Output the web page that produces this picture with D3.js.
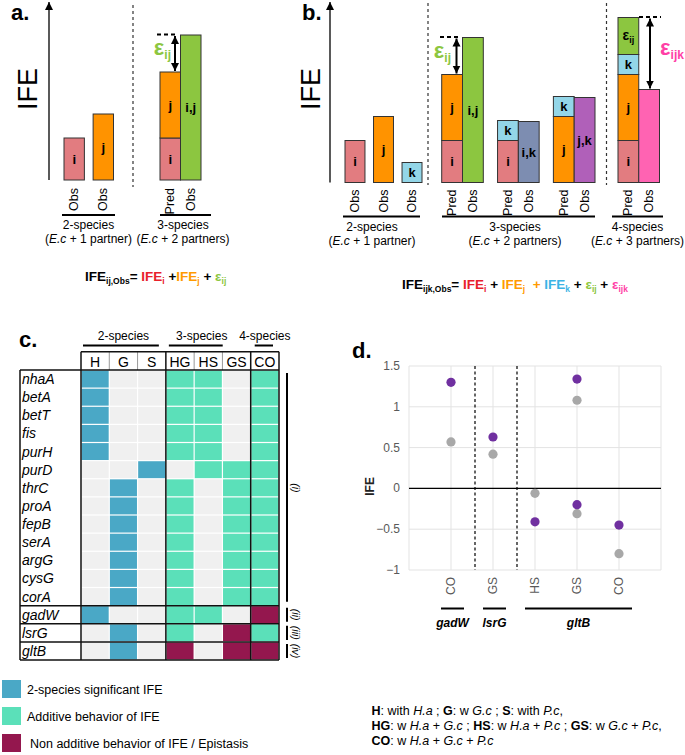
<!DOCTYPE html>
<html><head><meta charset="utf-8">
<script src="https://cdn.jsdelivr.net/npm/d3@7"></script>
<style>
body{margin:0;background:#fff}
svg{display:block}
text{font-family:"Liberation Sans",Arial,sans-serif;white-space:pre}
</style></head><body>
<svg id="fig" width="685" height="755"></svg>
<script>
// ================= DATA =================
// Panels a / b : schematic IFE values (arbitrary units)
const singleKeys = ["i", "j", "k"];
const singleIFE = [42, 66, 20];                 // IFE_i, IFE_j, IFE_k (2-species, observed)
const pairKeys = ["i,j", "i,k", "j,k"];
const pairObs = [145, 61, 85];                  // observed 3-species IFE
const pairPredParts = [["i", "j"], ["i", "k"], ["j", "k"]];
const quadPredParts = ["i", "j", "k", "eij"];
const quadObs = 93;                             // observed 4-species IFE
const groupTitles = ["2-species", "3-species", "4-species"];
const groupSubtitles = ["1 partner)", "2 partners)", "3 partners)"];

// Panel c : gene x condition classification
const genes = ["nhaA","betA","betT","fis","purH","purD","thrC","proA","fepB","serA","argG","cysG","corA","gadW","lsrG","gltB"];
const conditions = ["H","G","S","HG","HS","GS","CO"];
// B = 2-species significant IFE, A = additive, E = epistasis, . = none
const cellCodes = [
  "B..AA.A","B..AA.A","B..AA.A","B..AA.A","B..AA.A",
  "..B.AAA",
  ".B.A.AA",".B.A.AA",".B.A.AA",".B.A.AA",".B.A.AA",".B.A.AA",".B.A.AA",
  "B..AA.E",
  ".B.A.EA",
  ".B.E.EE"
];
const geneClassLabels = ["(i)","(ii)","(iii)","(iv)"];
const geneClassFirst = ["nhaA","gadW","lsrG","gltB"];
const geneClassLast  = ["corA","gadW","lsrG","gltB"];
const legendLabels = ["2-species significant IFE","Additive behavior of IFE","Non additive behavior of IFE / Epistasis"];
const legendCodes = ["B","A","E"];

// Panel d : IFE of non-additive cases
const dCats = ["gadW|CO","lsrG|GS","gltB|HS","gltB|GS","gltB|CO"];
const dTickLabels = ["CO","GS","HS","GS","CO"];
const dYTicks = [-1, -0.5, 0, 0.5, 1, 1.5];
const purpleCats = ["gadW|CO","lsrG|GS","gltB|HS","gltB|GS","gltB|GS","gltB|CO"];
const purpleVals = [1.30, 0.63, -0.41, 1.34, -0.20, -0.45];
const grayCats = ["gadW|CO","lsrG|GS","gltB|HS","gltB|GS","gltB|GS","gltB|CO"];
const grayVals = [0.57, 0.42, -0.06, 1.08, -0.31, -0.80];
const dGenes = ["gadW","lsrG","gltB"];
const dGeneFirst = ["gadW|CO","lsrG|GS","gltB|HS"];
const dGeneLast  = ["gadW|CO","lsrG|GS","gltB|CO"];

// ================= STYLE =================
const col = {
  i:"#E27C80", j:"#FF9300", k:"#93D6E8", eij:"#8CC640",
  "i,j":"#8CC640", "i,k":"#7D8DB1", "j,k":"#B060B9", ijk:"#FF63B2",
  tRed:"#E8202A", tOrange:"#FF9A00", tBlue:"#3BB4E5", tGreen:"#8CC640", tPink:"#FF3FA6",
  B:"#4AA8C6", A:"#5BE0B9", E:"#94174E", ".":"#F0F0F0",
  purple:"#7030A0", gray:"#A8A8A8"
};

const svg = d3.select("#fig");
svg.append("rect").attr("width",685).attr("height",755).attr("fill","#fff");
const defs = svg.append("defs");
defs.append("marker").attr("id","ah").attr("viewBox","0 0 10 10")
  .attr("refX",10).attr("refY",5).attr("markerUnits","userSpaceOnUse")
  .attr("markerWidth",8).attr("markerHeight",9).attr("orient","auto-start-reverse")
  .append("path").attr("d","M0,0L10,5L0,10z").attr("fill","#000");

function rich(g, x, y, parts, o = {}) {
  const t = g.append("text").attr("x", x).attr("y", y)
    .attr("font-size", o.size || 13).attr("text-anchor", o.anchor || "start");
  if (o.family) t.attr("font-family", o.family);
  if (o.fill) t.attr("fill", o.fill);
  let cur = 0;
  parts.forEach(p => {
    const target = p.sub ? (o.subShift || 3) : 0;
    const ts = t.append("tspan").text(p.t).attr("dy", target - cur);
    cur = target;
    if (p.sub) ts.attr("font-size", o.subSize || 8);
    if (p.c) ts.attr("fill", p.c);
    if (p.b || o.bold) ts.attr("font-weight", "bold");
    if (p.i) ts.attr("font-style", "italic");
  });
  return t;
}

const valOf = {};
singleKeys.forEach((k, n) => valOf[k] = singleIFE[n]);
valOf.eij = pairObs[0] - valOf.i - valOf.j;

function segLabel(g, key, cx, cy) {
  if (key === "eij") {
    rich(g, cx, cy + 4, [{t:"ε"},{t:"ij",sub:true}], {size:14, bold:true, anchor:"middle", subSize:9});
  } else {
    g.append("text").attr("x", cx).attr("y", cy).attr("text-anchor","middle")
      .attr("dominant-baseline","central").attr("font-weight","bold").attr("font-size",13).text(key);
  }
}
function stackBar(g, y, x, w, keys) {
  let acc = 0;
  keys.forEach(k => {
    const v = valOf[k];
    const y0 = y(acc), y1 = y(acc + v);
    g.append("rect").attr("x", x).attr("y", y1).attr("width", w).attr("height", y0 - y1)
      .attr("fill", col[k]).attr("stroke", "#333").attr("stroke-width", 1);
    segLabel(g, k, x + w / 2, (y0 + y1) / 2);
    acc += v;
  });
  return acc;
}
function obsBar(g, y, x, w, key, v, fill) {
  g.append("rect").attr("x", x).attr("y", y(v)).attr("width", w).attr("height", y(0) - y(v))
    .attr("fill", fill).attr("stroke", "#333").attr("stroke-width", 1);
  segLabel(g, key, x + w / 2, (y(0) + y(v)) / 2);
}
function rotLabel(g, cx, top, txt) {
  g.append("text").attr("transform", `translate(${cx},${top}) rotate(-90)`)
    .attr("text-anchor","end").attr("dominant-baseline","central").attr("font-size",12.5).text(txt);
}
function groupLabel(g, x0, x1, yLine, cx, n) {
  g.append("line").attr("x1",x0).attr("x2",x1).attr("y1",yLine).attr("y2",yLine)
    .attr("stroke","#000").attr("stroke-width",2);
  g.append("text").attr("x",cx).attr("y",yLine+14).attr("text-anchor","middle").attr("font-size",12).text(groupTitles[n]);
  rich(g, cx, yLine + 28, [{t:"("},{t:"E.c",i:true},{t:" + " + groupSubtitles[n]}], {size:12, anchor:"middle"});
}
function epsAnnot(g, y, xDash0, xDash1, xArrow, topV, botV, parts, lx, ly, size) {
  g.append("line").attr("x1",xDash0).attr("x2",xDash1).attr("y1",y(topV)-0.5).attr("y2",y(topV)-0.5)
    .attr("stroke","#000").attr("stroke-width",2).attr("stroke-dasharray","4,3");
  g.append("line").attr("x1",xArrow).attr("x2",xArrow).attr("y1",y(topV)+1).attr("y2",y(botV)-1)
    .attr("stroke","#000").attr("stroke-width",2)
    .attr("marker-start","url(#ah)").attr("marker-end","url(#ah)");
  rich(g, lx, ly, parts, {size:size, bold:true, anchor:"end", subSize:size*0.55, subShift:4});
}
function axisArrow(g, x, yb, yt) {
  g.append("line").attr("x1",x).attr("x2",x).attr("y1",yb).attr("y2",yt)
    .attr("stroke","#000").attr("stroke-width",1.3).attr("marker-end","url(#ah)");
}
function vDash(g, x, y0, y1) {
  g.append("line").attr("x1",x).attr("x2",x).attr("y1",y0).attr("y2",y1)
    .attr("stroke","#333").attr("stroke-width",1.2).attr("stroke-dasharray","3,3");
}
function panelLetter(x, y, t) {
  svg.append("text").attr("x",x).attr("y",y).attr("font-size",22).attr("font-weight","bold").text(t);
}
function ifeTitle(g, cx, cy) {
  g.append("text").attr("transform",`translate(${cx},${cy}) rotate(-90)`).attr("text-anchor","middle")
    .attr("dominant-baseline","central").attr("font-size",27).text("IFE");
}

// ================= PANEL a =================
{
  const g = svg.append("g");
  panelLetter(11, 20, "a.");
  const y = d3.scaleLinear().domain([0, 180]).range([180, 0]);
  axisArrow(g, 49, y(0), 2);
  ifeTitle(g, 28, 89);
  const x2 = d3.scaleBand().domain(["i","j"]).range([64, 113.5]).paddingInner(0.3);
  ["i","j"].forEach(k => {
    obsBar(g, y, x2(k), x2.bandwidth(), k, valOf[k], col[k]);
    rotLabel(g, x2(k) + x2.bandwidth()/2, y(0) + 8, "Obs");
  });
  vDash(g, 133, 5, 187);
  const x3 = d3.scaleBand().domain(["Pred","Obs"]).range([160, 201]);
  const w = x3.bandwidth();
  const pred = stackBar(g, y, x3("Pred"), w, pairPredParts[0]);
  obsBar(g, y, x3("Obs"), w, pairKeys[0], pairObs[0], col[pairKeys[0]]);
  rotLabel(g, x3("Pred") + w/2, y(0) + 8, "Pred");
  rotLabel(g, x3("Obs") + w/2, y(0) + 8, "Obs");
  epsAnnot(g, y, 157, 178, 175, pairObs[0], pred, [{t:"ε", c:col.tGreen},{t:"ij", sub:true, c:col.tGreen}], 171, 55, 22);
  groupLabel(g, 62, 115, 215, 88.5, 0);
  groupLabel(g, 160, 211, 215, 183, 1);
  rich(g, 85, 281, [
    {t:"IFE"},{t:"ij,Obs",sub:true},{t:"= "},
    {t:"IFE",c:col.tRed},{t:"i",sub:true,c:col.tRed},{t:" +"},
    {t:"IFE",c:col.tOrange},{t:"j",sub:true,c:col.tOrange},{t:" + "},
    {t:"ε",c:col.tGreen},{t:"ij",sub:true,c:col.tGreen}
  ], {size:13.5, bold:true, subSize:8.5});
}

// ================= PANEL b =================
{
  const g = svg.append("g");
  panelLetter(302, 20, "b.");
  const y = d3.scaleLinear().domain([0, 180]).range([182.5, 2.5]);
  axisArrow(g, 330, y(0), 2);
  ifeTitle(g, 311, 89);
  const x2 = d3.scaleBand().domain(singleKeys).range([345, 422]).paddingInner(0.3);
  singleKeys.forEach(k => {
    obsBar(g, y, x2(k), x2.bandwidth(), k, valOf[k], col[k]);
    rotLabel(g, x2(k) + x2.bandwidth()/2, y(0) + 7, "Obs");
  });
  vDash(g, 428, 3, 185);
  vDash(g, 606.5, 3, 185);
  const xp = d3.scaleBand().domain(pairKeys).range([441.7, 595]).paddingInner(0.255);
  let predIJ = 0;
  pairKeys.forEach((pk, n) => {
    const xi = d3.scaleBand().domain(["Pred","Obs"]).range([xp(pk), xp(pk) + xp.bandwidth()]);
    const w = xi.bandwidth();
    const p = stackBar(g, y, xi("Pred"), w, pairPredParts[n]);
    if (n === 0) predIJ = p;
    obsBar(g, y, xi("Obs"), w, pk, pairObs[n], col[pk]);
    rotLabel(g, xi("Pred") + w/2, y(0) + 7, "Pred");
    rotLabel(g, xi("Obs") + w/2, y(0) + 7, "Obs");
  });
  epsAnnot(g, y, 440, 460, 456.5, pairObs[0], predIJ, [{t:"ε", c:col.tGreen},{t:"ij", sub:true, c:col.tGreen}], 451, 58, 22);
  const x4 = d3.scaleBand().domain(["Pred","Obs"]).range([618, 659.5]);
  const w4 = x4.bandwidth();
  const pred4 = stackBar(g, y, x4("Pred"), w4, quadPredParts);
  obsBar(g, y, x4("Obs"), w4, "", quadObs, col.ijk);
  rotLabel(g, x4("Pred") + w4/2, y(0) + 7, "Pred");
  rotLabel(g, x4("Obs") + w4/2, y(0) + 7, "Obs");
  epsAnnot(g, y, 639, 661, 650, pred4, quadObs, [{t:"ε", c:col.tPink},{t:"ijk", sub:true, c:col.tPink}], 684, 55, 22);
  groupLabel(g, 343, 420, 216.5, 372, 0);
  groupLabel(g, 442, 595, 216.5, 515, 1);
  groupLabel(g, 612, 663, 216.5, 637.5, 2);
  rich(g, 402, 289, [
    {t:"IFE"},{t:"ijk,Obs",sub:true},{t:"= "},
    {t:"IFE",c:col.tRed},{t:"i",sub:true,c:col.tRed},{t:" + "},
    {t:"IFE",c:col.tOrange},{t:"j",sub:true,c:col.tOrange},{t:"  + ",c:col.tOrange},
    {t:"IFE",c:col.tBlue},{t:"k",sub:true,c:col.tBlue},{t:" + "},
    {t:"ε",c:col.tGreen},{t:"ij",sub:true,c:col.tGreen},{t:" + "},
    {t:"ε",c:col.tPink},{t:"ijk",sub:true,c:col.tPink}
  ], {size:13.5, bold:true, subSize:8.5});
}

// ================= PANEL c =================
{
  const g = svg.append("g");
  panelLetter(19, 347, "c.");
  const cal = "Lato, 'Open Sans', sans-serif";
  const x = d3.scaleBand().domain(conditions).range([81, 279]);
  const y = d3.scaleBand().domain(genes).range([370, 660]);
  const bw = x.bandwidth(), bh = y.bandwidth();
  const hTop = 351.7, hBot = 370, left = 20;
  // cells
  genes.forEach((gene, r) => {
    conditions.forEach((c, ci) => {
      const code = cellCodes[r][ci];
      g.append("rect").attr("x", x(c) + 0.6).attr("y", y(gene) + 0.6)
        .attr("width", bw - 1.2).attr("height", bh - 1.2).attr("fill", col[code]);
    });
    g.append("text").attr("x", left + 2).attr("y", y(gene) + bh/2).attr("dominant-baseline","central")
      .attr("font-family", cal).attr("font-style","italic").attr("font-size",14).text(gene);
  });
  // header
  conditions.forEach(c => {
    g.append("text").attr("x", x(c) + bw/2).attr("y", (hTop + hBot)/2 + 1).attr("text-anchor","middle")
      .attr("dominant-baseline","central").attr("font-family", cal).attr("font-size",14).text(c);
  });
  ["G","S","HS","GS"].forEach(c => {
    g.append("line").attr("x1", x(c)).attr("x2", x(c)).attr("y1", hTop).attr("y2", hBot)
      .attr("stroke","#999").attr("stroke-width",1);
  });
  const thick = (x1, y1, x2, y2) => g.append("line").attr("x1",x1).attr("y1",y1).attr("x2",x2).attr("y2",y2)
    .attr("stroke","#111").attr("stroke-width",1.5);
  thick(x("H"), hTop, 279, hTop);
  thick(left, hBot, 279, hBot);
  [x("H"), x("HG"), x("CO"), 279].forEach(xx => thick(xx, hTop, xx, 660));
  thick(left, hBot, left, 660);
  ["gadW","lsrG","gltB"].forEach(gn => thick(left, y(gn), 279, y(gn)));
  thick(left, 660, 279, 660);
  // group labels
  const grp = [["H","S",2,-7],["HG","GS",3,-28],["CO","CO",4,-6]];
  const grpCx = [x("H") + 1.5*bw, x("HG") + 1.27*bw, x("CO") + bw/2];
  grp.forEach((d, n) => {
    const x0 = x(d[0]) + d[2], x1 = x(d[1]) + bw + d[3];
    g.append("line").attr("x1", x0).attr("x2", x1).attr("y1", 345.5).attr("y2", 345.5).attr("stroke","#000").attr("stroke-width",2);
    g.append("text").attr("x", grpCx[n]).attr("y", 340).attr("text-anchor","middle").attr("font-size",12).text(groupTitles[n]);
  });
  // gene class brackets
  geneClassLabels.forEach((lab, n) => {
    const y0 = y(geneClassFirst[n]) + 2, y1 = y(geneClassLast[n]) + bh - 2;
    g.append("line").attr("x1", 287).attr("x2", 287).attr("y1", y0 + (n === 0 ? 1 : 0)).attr("y2", y1 - (n===0?2:0))
      .attr("stroke","#000").attr("stroke-width",2);
    g.append("text").attr("transform", `translate(296,${(y0 + y1)/2}) rotate(90)`).attr("text-anchor","middle")
      .attr("dominant-baseline","central").attr("font-style","italic").attr("font-size",10.5).text(lab);
  });
  // legend
  legendLabels.forEach((lab, n) => {
    const yy = 680 + n * 27;
    g.append("rect").attr("x", 2).attr("y", yy).attr("width", 19).attr("height", 18).attr("fill", col[legendCodes[n]]);
    g.append("text").attr("x", n === 2 ? 30 : 27).attr("y", yy + 9.5).attr("dominant-baseline","central")
      .attr("font-size",12.5).text(lab);
  });
}

// ================= PANEL d =================
{
  const g = svg.append("g");
  panelLetter(352, 358, "d.");
  const x = d3.scalePoint().domain(dCats).range([409, 661]).padding(1);
  const y = d3.scaleLinear().domain([-1, 1.5]).range([570, 366]);
  // grid
  dYTicks.forEach(t => {
    g.append("line").attr("x1", 409).attr("x2", 661).attr("y1", y(t)).attr("y2", y(t))
      .attr("stroke", "#E3E3E3").attr("stroke-width", 1);
    g.append("text").attr("x", 400).attr("y", y(t)).attr("text-anchor","end").attr("dominant-baseline","central")
      .attr("font-size", 12).attr("fill", "#595959").text(d3.format("")(t));
  });
  [409, 661].forEach(xx => g.append("line").attr("x1",xx).attr("x2",xx).attr("y1",y(1.5)).attr("y2",y(-1))
    .attr("stroke","#E3E3E3"));
  dCats.forEach(c => g.append("line").attr("x1",x(c)).attr("x2",x(c)).attr("y1",y(1.5)).attr("y2",y(-1))
    .attr("stroke","#E3E3E3"));
  // zero line on top
  g.append("line").attr("x1", 409).attr("x2", 661).attr("y1", y(0)).attr("y2", y(0)).attr("stroke","#000").attr("stroke-width",1.3);
  // dashed separators between genes
  [[dCats[0], dCats[1]], [dCats[1], dCats[2]]].forEach(([a, b]) => {
    const xx = (x(a) + x(b)) / 2 + 3;
    g.append("line").attr("x1", xx).attr("x2", xx).attr("y1", y(1.5)).attr("y2", y(-1))
      .attr("stroke","#000").attr("stroke-width",1.2).attr("stroke-dasharray","3,2.5");
  });
  // points
  grayCats.forEach((c, n) => g.append("circle").attr("cx", x(c)).attr("cy", y(grayVals[n])).attr("r", 4.6).attr("fill", col.gray));
  purpleCats.forEach((c, n) => g.append("circle").attr("cx", x(c)).attr("cy", y(purpleVals[n])).attr("r", 4.6).attr("fill", col.purple));
  // x labels
  dCats.forEach((c, n) => {
    g.append("text").attr("transform", `translate(${x(c)},${577}) rotate(-90)`).attr("text-anchor","end")
      .attr("dominant-baseline","central").attr("font-size",12).attr("fill","#595959").text(dTickLabels[n]);
  });
  // y label
  g.append("text").attr("transform", `translate(370,${y(0) - 2}) rotate(-90)`).attr("text-anchor","middle")
    .attr("dominant-baseline","central").attr("font-size",12).attr("font-weight","bold").attr("fill","#222").text("IFE");
  // gene groups
  dGenes.forEach((gn, n) => {
    const x0 = x(dGeneFirst[n]) - 10, x1 = x(dGeneLast[n]) + 13;
    g.append("line").attr("x1", x0).attr("x2", x1).attr("y1", 608.5).attr("y2", 608.5).attr("stroke","#000").attr("stroke-width",2);
    g.append("text").attr("x", (x0 + x1)/2).attr("y", 627).attr("text-anchor","middle")
      .attr("font-size",12).attr("font-weight","bold").attr("font-style","italic").text(gn);
  });
  // footnote
  const fs = 12.5;
  rich(g, 371.5, 715, [{t:"H",b:true},{t:": with "},{t:"H.a",i:true},{t:" ; "},{t:"G",b:true},{t:": w "},{t:"G.c",i:true},{t:" ; "},{t:"S",b:true},{t:": with "},{t:"P.c",i:true},{t:","}], {size:fs});
  rich(g, 371.5, 730, [{t:"HG",b:true},{t:": w "},{t:"H.a",i:true},{t:" + "},{t:"G.c",i:true},{t:" ; "},{t:"HS",b:true},{t:": w "},{t:"H.a",i:true},{t:" + "},{t:"P.c",i:true},{t:" ; "},{t:"GS",b:true},{t:": w "},{t:"G.c",i:true},{t:" + "},{t:"P.c",i:true},{t:","}], {size:fs});
  rich(g, 371.5, 745, [{t:"CO",b:true},{t:": w "},{t:"H.a",i:true},{t:" + "},{t:"G.c",i:true},{t:" + "},{t:"P.c",i:true}], {size:fs});
}
</script>
</body></html>
